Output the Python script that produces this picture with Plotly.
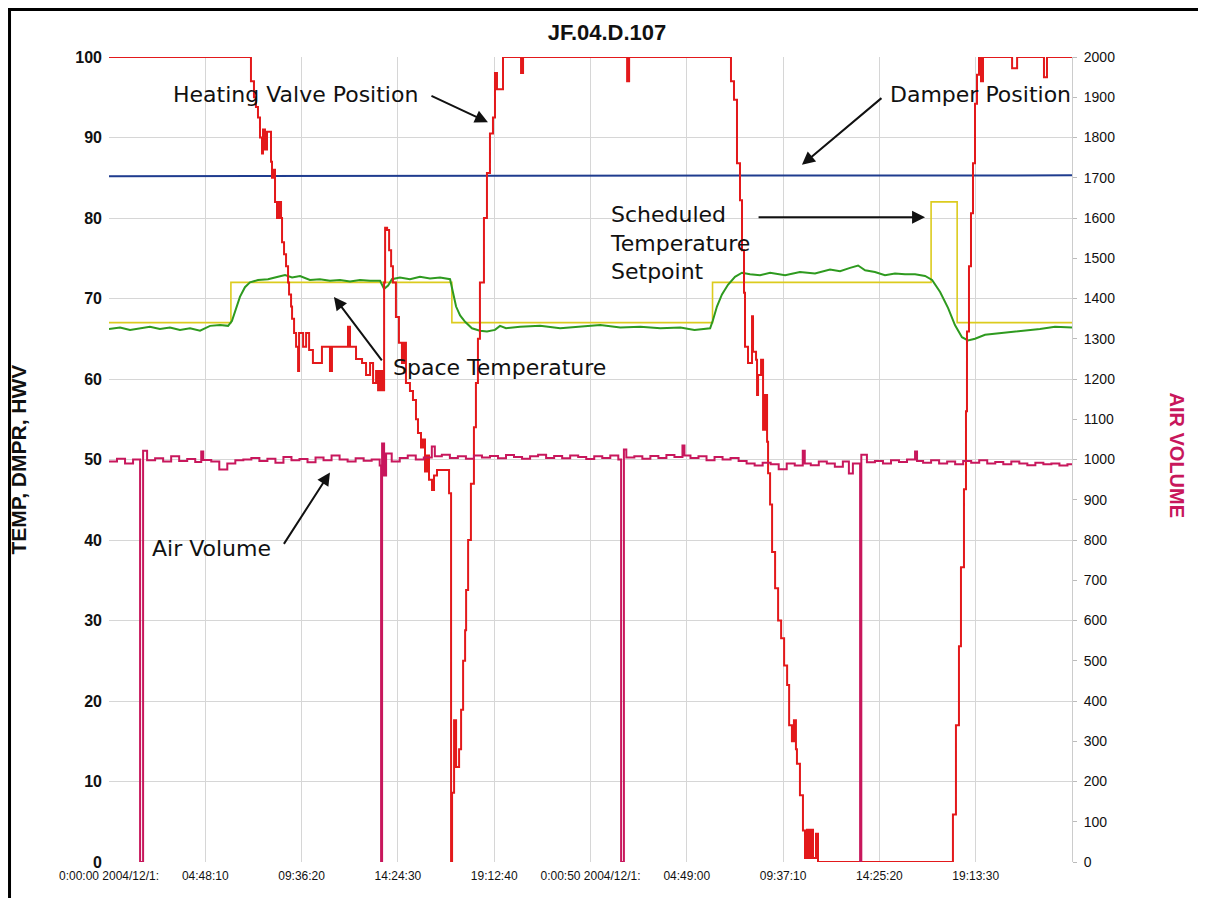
import plotly.graph_objects as go

# ---------------- data (time in hours from 0:00:00) ----------------
tick_interval_h = 4 + 48/60 + 10/3600          # 4:48:10 between ticks
x_ticks = [i * tick_interval_h for i in range(10)]
x_end = 10 * tick_interval_h
x_ticklabels = ["0:00:00 2004/12/1:", "04:48:10", "09:36:20", "14:24:30", "19:12:40",
                "0:00:50 2004/12/1:", "04:49:00", "09:37:10", "14:25:20", "19:13:30"]

# Heating valve position (%), left axis
hwv_t = [0, 7.08, 7.23, 7.33, 7.43, 7.53, 7.63, 7.68, 7.78, 7.88, 8.08, 8.13, 8.23, 8.28, 8.38,
         8.48, 8.58, 8.63, 8.73, 8.83, 8.93, 8.98, 9.08, 9.13, 9.23, 9.33, 9.43, 9.48, 9.68, 9.83,
         9.98, 10.17, 10.62, 11.02, 11.12, 11.92, 12.02, 12.32, 12.62, 12.82, 13.02, 13.17, 13.32,
         13.42, 13.52, 13.62, 13.72, 13.77, 13.87, 13.97, 14.07, 14.16, 14.31, 14.46, 14.61, 14.71,
         14.81, 15.01, 15.16, 15.31, 15.41, 15.56, 15.66, 15.76, 15.86, 15.96, 16.11, 16.21, 16.36,
         16.86, 16.96, 17.06, 17.11, 17.21, 17.31, 17.46, 17.56, 17.66, 17.76, 17.81, 17.91, 18.05,
         18.2, 18.3, 18.4, 18.5, 18.7, 18.85, 19.0, 19.15, 19.25, 19.35, 19.65, 20.55, 20.65, 25.84,
         25.94, 31.02, 31.17, 31.32, 31.47, 31.57, 31.67, 31.72, 31.87, 32.07, 32.12, 32.27, 32.32,
         32.37, 32.52, 32.62, 32.72, 32.82, 32.87, 32.97, 33.07, 33.22, 33.37, 33.52, 33.67, 33.82,
         33.92, 34.06, 34.16, 34.26, 34.31, 34.46, 34.61, 34.71, 34.81, 34.91, 35.01, 35.11, 35.26,
         35.36, 42.09, 42.24, 42.39, 42.49, 42.64, 42.74, 42.79, 42.89, 42.99, 43.09, 43.19, 43.29,
         43.39, 43.49, 43.59, 45.04, 45.29, 46.63, 46.78, 48.03]
hwv_v = [100, 97, 95, 93.8, 92.5, 90, 88, 91, 88.5, 90.7, 87, 85, 86, 82, 80,
         82, 80, 77, 75.5, 74, 72, 70.5, 69, 67.5, 65.7, 64, 61, 65.7, 64, 65.7,
         63.6, 62, 64, 61, 64, 66.5, 64, 62.5, 62, 60.5, 62, 59.5, 61,
         58.6, 61, 58.6, 72, 78.8, 78.5, 76, 74, 72, 67.7, 64.5, 62, 64.5,
         59.5, 58.5, 57.4, 55, 53.3, 51.5, 52.5, 48.5, 50.5, 47.5, 46.2, 48, 48.7,
         48.7, 45.8, 0, 8.6, 17.6, 11.8, 14, 18.9, 25, 28.8, 33.8, 40, 47,
         54, 59.5, 65, 72, 80, 85.6, 90.5, 92.5, 98, 96, 100, 98, 100, 97,
         100, 97, 94.7, 86.8, 82.2, 76, 70.7, 64, 62, 67.8, 63.4, 62.4, 58,
         60.5, 62.4, 53.7, 58, 52.2, 48.3, 44.4, 38.5, 34, 30, 27.8, 24.4, 22,
         17, 15, 17.6, 14, 12.2, 8.3, 3.9, 0.5, 4, 0.5, 4, 0.5, 3.5,
         0, 5.9, 17, 26.8, 36.6, 46.3, 56, 65.9, 74, 80.6, 86.8, 94.2, 97.8,
         100, 97, 100, 98.6, 100, 97.5, 100, 100]

# Damper position (%), left axis
damper_t = [0, x_end]
damper_v = [85.2, 85.3]

# Scheduled temperature setpoint (deg F), left axis
setpoint_t = [0, 6.08, 17.1, 30.1, 41.0, 42.3, x_end]
setpoint_v = [67, 72, 67, 72, 82, 67, 67]

# Space temperature (deg F), left axis
space_t = [0, 0.55, 1.05, 1.55, 2.04, 2.54, 3.04, 3.54, 4.04, 4.54, 5.04, 5.54, 5.94, 6.13, 6.33,
           6.53, 6.78, 7.03, 7.43, 7.93, 8.43, 8.78, 9.13, 9.53, 10.02, 10.52, 11.02, 11.52, 12.02,
           12.52, 13.02, 13.52, 13.72, 13.92, 14.11, 14.51, 15.01, 15.51, 16.01, 16.51, 17.01, 17.16,
           17.31, 17.51, 17.76, 18.1, 18.5, 18.85, 19.25, 19.5, 19.8, 20.5, 21.5, 22.5, 23.5, 24.5,
           25.5, 26.5, 27.5, 28.5, 29.2, 29.98, 30.12, 30.32, 30.57, 30.87, 31.22, 31.57, 31.97,
           32.47, 32.97, 33.72, 34.46, 35.21, 35.96, 36.46, 36.96, 37.36, 37.71, 38.2, 38.7, 39.2,
           39.7, 40.2, 40.7, 41.05, 41.45, 41.85, 42.19, 42.54, 42.84, 43.19, 43.69, 44.44, 45.44,
           46.43, 47.18, x_end]
space_v = [66.2, 66.4, 66.1, 66.3, 66.5, 66.2, 66.4, 66.1, 66.3, 66.0, 66.6, 66.7, 66.6, 67.2, 68.8,
           70.2, 71.4, 72.0, 72.3, 72.4, 72.7, 72.9, 72.6, 72.8, 72.3, 72.4, 72.2, 72.3, 72.1,
           72.3, 72.2, 72.2, 71.2, 71.6, 72.4, 72.6, 72.4, 72.7, 72.5, 72.6, 72.4, 70.8,
           69.0, 67.9, 67.1, 66.3, 66.0, 65.9, 66.1, 66.6, 66.3, 66.5, 66.6, 66.3, 66.5, 66.7,
           66.4, 66.5, 66.3, 66.4, 66.1, 66.3, 67.3, 69.0, 70.5, 71.7, 72.7, 73.2, 73.0,
           72.9, 73.2, 72.9, 73.3, 73.1, 73.6, 73.4, 73.8, 74.1, 73.5, 73.3, 72.9, 73.1,
           73.0, 73.0, 72.8, 72.3, 70.8, 68.8, 66.7, 65.2, 64.8, 65.0, 65.5, 65.7, 65.9,
           66.2, 66.5, 66.4]

# Air volume (cfm), right axis
av_t = [0.0, 0.4, 0.8, 1.2, 1.55, 1.70, 1.9, 2.3, 2.7, 3.1, 3.5, 3.9, 4.3, 4.6, 4.7, 5.1, 5.5, 5.9,
        6.3, 6.7, 7.1, 7.5, 7.9, 8.3, 8.7, 9.1, 9.5, 9.9, 10.3, 10.7, 11.1, 11.5, 11.9, 12.3, 12.7,
        13.1, 13.5, 13.57, 13.62, 13.72, 13.82, 14.1, 14.5, 14.9, 15.3, 15.7, 16.1, 16.25, 16.6,
        17.0, 17.4, 17.8, 18.2, 18.6, 19.0, 19.4, 19.8, 20.2, 20.6, 21.0, 21.4, 21.8, 22.2, 22.6,
        23.0, 23.4, 23.8, 24.2, 24.6, 25.0, 25.4, 25.54, 25.68, 25.8, 26.2, 26.6, 27.0, 27.4, 27.8,
        28.2, 28.6, 28.7, 29.0, 29.4, 29.8, 30.2, 30.6, 31.0, 31.4, 31.8, 32.2, 32.6, 33.0, 33.4,
        33.8, 34.2, 34.6, 34.7, 35.0, 35.4, 35.8, 36.2, 36.6, 36.9, 37.1, 37.46, 37.52, 37.8, 38.2,
        38.6, 39.0, 39.4, 39.8, 40.2, 40.3, 40.6, 41.0, 41.4, 41.8, 42.2, 42.6, 43.0, 43.4, 43.8,
        44.2, 44.6, 45.0, 45.4, 45.8, 46.2, 46.6, 47.0, 47.4, 47.8, x_end]
av_v = [995, 1002, 990, 1000, 0, 1022, 998, 1003, 995, 1008, 996, 1001, 994, 1020, 999, 995, 975, 990,
        998, 1000, 1004, 996, 1002, 992, 1006, 998, 1001, 993, 1005, 998, 1010, 1000, 995, 1003, 997,
        1000, 985, 0, 1040, 960, 1015, 995, 1004, 1010, 1000, 1005, 1032, 1008, 1012,
        1004, 1008, 1002, 1010, 1005, 1009, 1003, 1011, 1006, 1002, 1008, 1012, 1004, 1009, 1003,
        1010, 1006, 1001, 1008, 1004, 1010, 1000, 0, 1025, 1005, 1008, 1002, 1009, 1004, 1011,
        1006, 1035, 1010, 1004, 1008, 998, 1006, 1000, 1004, 996, 990, 985, 992, 988, 976,
        990, 985, 1022, 990, 986, 995, 990, 982, 995, 965, 990, 0, 1012, 993, 996,
        990, 998, 994, 1000, 1020, 996, 992, 998, 990, 995, 988, 996, 992, 998, 990,
        994, 988, 995, 990, 986, 992, 988, 990, 985, 988, 988]

left_ticks = list(range(0, 101, 10))
right_ticks = list(range(0, 2001, 100))

# ---------------- figure ----------------
fig = go.Figure()
fig.add_trace(go.Scatter(x=damper_t, y=damper_v, mode="lines", name="Damper Position",
                         line=dict(color="#1f3c8f", width=2)))
fig.add_trace(go.Scatter(x=setpoint_t, y=setpoint_v, mode="lines", name="Setpoint",
                         line=dict(color="#dccb1e", width=1.6, shape="hv")))
fig.add_trace(go.Scatter(x=space_t, y=space_v, mode="lines", name="Space Temperature",
                         line=dict(color="#2e9a1f", width=2)))
fig.add_trace(go.Scatter(x=av_t, y=av_v, mode="lines", name="Air Volume", yaxis="y2",
                         line=dict(color="#c8175c", width=2, shape="hv")))
fig.add_trace(go.Scatter(x=hwv_t, y=hwv_v, mode="lines", name="Heating Valve Position",
                         line=dict(color="#e3191b", width=2, shape="hv")))

ann_font = dict(family="DejaVu Sans, Open Sans, sans-serif", size=22, color="#111111")
annotations = [
    dict(x=9.28, y=95.3, text="Heating Valve Position", showarrow=False, font=ann_font,
         xanchor="center", yanchor="middle"),
    dict(x=43.45, y=95.3, text="Damper Position", showarrow=False, font=ann_font,
         xanchor="center", yanchor="middle"),
    dict(x=24.9, y=76.9, text="Scheduled<br>Temperature<br>Setpoint", showarrow=False,
         font=ann_font, xanchor="left", yanchor="middle", align="left"),
    dict(x=19.5, y=61.4, text="Space Temperature", showarrow=False, font=ann_font,
         xanchor="center", yanchor="middle"),
    dict(x=5.1, y=39.0, text="Air Volume", showarrow=False, font=ann_font,
         xanchor="center", yanchor="middle"),
]
arrows = [
    (18.9, 91.9, -58, -27),
    (34.56, 86.6, 81, -68),
    (40.7, 80.1, -168, 0),
    (11.22, 70.2, 49, 65),
    (11.02, 48.4, -47, 73),
]
for (hx, hy, ax, ay) in arrows:
    annotations.append(dict(x=hx, y=hy, ax=ax, ay=ay, text="", showarrow=True,
                            arrowhead=2, arrowsize=1.3, arrowwidth=2, arrowcolor="#111111"))

# axis titles
annotations.append(dict(xref="paper", yref="paper", x=-0.0935, y=0.5, text="<b>TEMP, DMPR, HWV</b>",
                        textangle=-90, showarrow=False, xanchor="center", yanchor="middle",
                        font=dict(family="Arial, Liberation Sans, sans-serif", size=21, color="#111111")))
annotations.append(dict(xref="paper", yref="paper", x=1.109, y=0.505, text="<b>AIR VOLUME</b>",
                        textangle=90, showarrow=False, xanchor="center", yanchor="middle",
                        font=dict(family="Arial, Liberation Sans, sans-serif", size=20, color="#c8175c")))

# page frame (top and left edges of the scanned page)
shapes = [
    dict(type="line", xref="paper", yref="paper", x0=-0.11, x1=1.15, y0=1.059, y1=1.059,
         line=dict(color="black", width=3)),
    dict(type="line", xref="paper", yref="paper", x0=-0.1033, x1=-0.1033, y0=-0.05, y1=1.06,
         line=dict(color="black", width=3)),
]

# the page body adds an 8px offset, so the figure is sized/margined to land the plot area
fig.update_layout(
    width=1198, height=890,
    margin=dict(l=101, r=134, t=49, b=36),
    paper_bgcolor="white", plot_bgcolor="white",
    showlegend=False,
    title=dict(text="<b>JF.04.D.107</b>", x=0.5, xanchor="center", y=0.973, yanchor="middle",
               font=dict(family="Arial, Liberation Sans, sans-serif", size=22, color="#111111")),
    xaxis=dict(range=[0, x_end], tickvals=x_ticks, ticktext=x_ticklabels, showgrid=True,
               gridcolor="#d6d6d6", gridwidth=1, zeroline=False, ticks="", showline=False,
               ticklabelstandoff=5,
               tickfont=dict(family="Arial, Liberation Sans, sans-serif", size=12, color="#111111")),
    yaxis=dict(range=[0, 100], tickvals=left_ticks, showgrid=True, gridcolor="#d6d6d6",
               gridwidth=1, zeroline=False, ticks="", ticklabelstandoff=6, showline=False,
               tickfont=dict(family="Arial, Liberation Sans, sans-serif", size=16, color="#111111",
                             weight="bold")),
    yaxis2=dict(range=[0, 2000], tickvals=right_ticks, overlaying="y", side="right",
                showgrid=False, zeroline=False, ticks="outside", ticklen=4, tickcolor="#bbbbbb",
                showline=True, linecolor="#cccccc", linewidth=1, ticklabelstandoff=4,
                tickfont=dict(family="Arial, Liberation Sans, sans-serif", size=14, color="#111111")),
    annotations=annotations,
    shapes=shapes,
)

fig.write_html("out.html")
